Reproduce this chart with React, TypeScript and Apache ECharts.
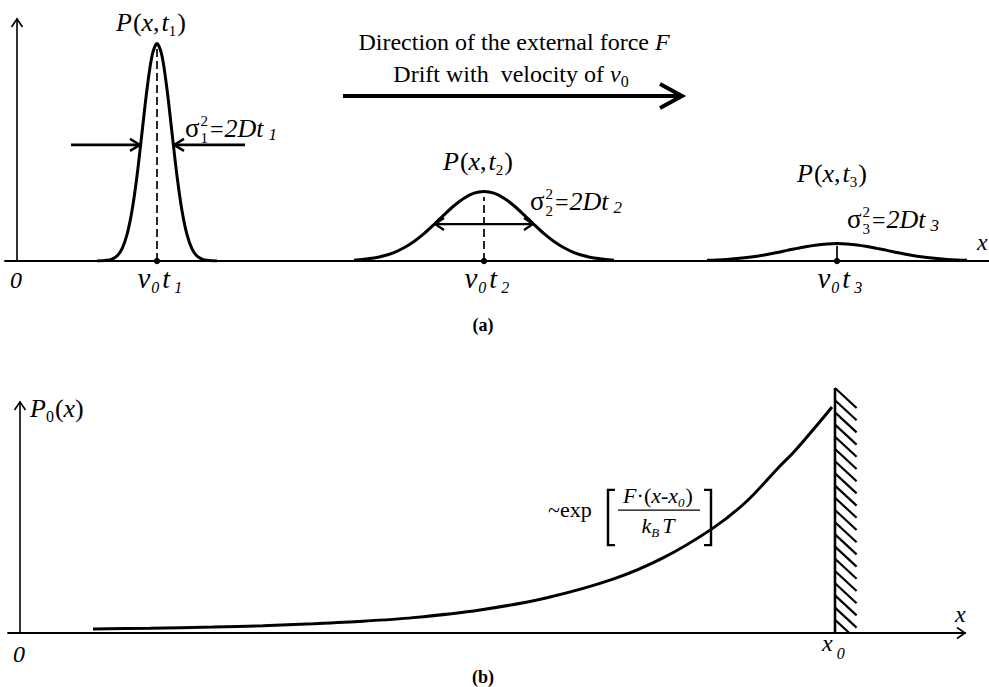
import React, { useEffect, useRef } from 'react';
import * as echarts from 'echarts';

// ---------- panel (a): packet profiles P(x,t) at t1, t2, t3 ----------
// x in drift-axis units, y relative to the first peak
const packetT1: [number, number][] = [
  [8.0, 0], [8.5, 0.001], [9.0, 0.003], [9.5, 0.009], [10.0, 0.023], [10.5, 0.056],
  [11.0, 0.121], [11.5, 0.231], [12.0, 0.391], [12.5, 0.59], [13.0, 0.79], [13.5, 0.943],
  [14.0, 1.0], [14.5, 0.943], [15.0, 0.79], [15.5, 0.59], [16.0, 0.391], [16.5, 0.231],
  [17.0, 0.121], [17.5, 0.056], [18.0, 0.023], [18.5, 0.009], [19.0, 0.003], [19.5, 0.001], [20.0, 0],
];
const packetT2: [number, number][] = [
  [33.7, 0.004], [34.7, 0.008], [35.7, 0.014], [36.7, 0.024], [37.7, 0.039], [38.7, 0.061],
  [39.7, 0.09], [40.7, 0.126], [41.7, 0.168], [42.7, 0.212], [43.7, 0.254], [44.7, 0.289],
  [45.7, 0.312], [46.7, 0.32], [47.7, 0.312], [48.7, 0.289], [49.7, 0.254], [50.7, 0.212],
  [51.7, 0.168], [52.7, 0.126], [53.7, 0.09], [54.7, 0.061], [55.7, 0.039], [56.7, 0.024],
  [57.7, 0.014], [58.7, 0.008], [59.7, 0.004],
];
const packetT3: [number, number][] = [
  [69, 0.003], [70, 0.0045], [71, 0.007], [72, 0.011], [73, 0.016], [74, 0.022], [75, 0.03],
  [76, 0.039], [77, 0.049], [78, 0.058], [79, 0.067], [80, 0.074], [81, 0.078], [82, 0.08],
  [83, 0.078], [84, 0.074], [85, 0.067], [86, 0.058], [87, 0.049], [88, 0.039], [89, 0.03],
  [90, 0.022], [91, 0.016], [92, 0.011], [93, 0.007], [94, 0.0045], [95, 0.003],
];
// centre positions v0*t of the three packets and the height reached by their centre marks
const packetCentres = [14.0, 46.7, 82.0];
const centreMarkTops = [0.984, 0.294, 0.07];
const timeIndices = ['1', '2', '3'];
// width markers: inward arrows on the first packet, a double arrow on the second
const sigma1Level = 0.534;
const sigma1Arrows: [number, number][] = [[5.4, 12.3], [22.8, 15.7]];
const sigma2Level = 0.17;
const sigma2Span: [number, number] = [41.8, 51.6];
// drift / force direction arrow
const driftLevel = 0.759;
const driftSpan: [number, number] = [32.6, 66.5];

// ---------- panel (b): stationary profile P0(x) against the wall at x0 ----------
const boundaryProfile: [number, number][] = [
  [7.3, 0.018], [13.0, 0.021], [19.3, 0.026], [24.3, 0.032], [29.3, 0.041], [34.3, 0.052],
  [39.3, 0.068], [46.0, 0.102], [52.7, 0.156], [59.3, 0.238], [64.3, 0.332], [69.3, 0.464],
  [72.7, 0.584], [76.0, 0.739], [77.2, 0.792], [78.5, 0.857], [79.9, 0.93], [81.2, 1.0],
];
const wallPosition = 81.5;
const wallHeight = 1.084;

// axis extents
const A_X_MIN = -1.2;
const A_X_MAX = 97.2;
const A_Y_MAX = 1.113;
const B_X_MIN = -1.2;
const B_X_MAX = 94.5;
const B_Y_MAX = 1.022;

const INK = '#000';
const FAMILY = 'Liberation Serif';

type Piece = { t: string; s: number; it?: boolean; b?: boolean; dy?: number; gap?: number; hold?: boolean };

let measureCtx: CanvasRenderingContext2D | null = null;
const fontOf = (p: Piece) => `${p.it ? 'italic ' : ''}${p.b ? 'bold ' : ''}${p.s}px "${FAMILY}"`;
function textWidth(p: Piece) {
  if (!measureCtx) measureCtx = document.createElement('canvas').getContext('2d');
  measureCtx!.font = fontOf(p);
  return measureCtx!.measureText(p.t).width;
}

// lay out a run of text pieces on a common baseline (sub/superscripts via dy)
function typeset(pieces: Piece[], x: number, baseline: number, align: 'left' | 'center') {
  const xs: number[] = [];
  let cur = 0;
  pieces.forEach((p) => {
    cur += p.gap ?? 0;
    xs.push(cur);
    if (!p.hold) cur += textWidth(p);
  });
  const start = align === 'center' ? x - cur / 2 : x;
  return pieces.map((p, i) => ({
    type: 'text',
    silent: true,
    z: 20,
    x: start + xs[i],
    y: baseline + (p.dy ?? 0) - 0.34 * p.s,
    style: {
      text: p.t,
      fontFamily: FAMILY,
      fontSize: p.s,
      fontStyle: p.it ? 'italic' : 'normal',
      fontWeight: p.b ? 'bold' : 'normal',
      fill: INK,
      textAlign: 'left',
      textVerticalAlign: 'middle',
      align: 'left',
      verticalAlign: 'middle',
    },
  }));
}

const it = (t: string, s = 26, extra: Partial<Piece> = {}): Piece => ({ t, s, it: true, ...extra });
const rm = (t: string, s = 26, extra: Partial<Piece> = {}): Piece => ({ t, s, ...extra });

const pLabel = (n: string): Piece[] => [
  it('P'), rm('(', 26, { gap: 1 }), it('x'), rm(','), it('t', 26, { gap: 2 }),
  rm(n, 15, { dy: 5 }), rm(')', 26, { gap: 1 }),
];
const sigmaLabel = (n: string): Piece[] => [
  rm('σ', 27), rm('2', 15, { dy: -11, hold: true, gap: 1 }), rm(n, 15, { dy: 6 }),
  rm('=', 24, { gap: 2 }), it('2', 26, { gap: 1 }), it('D'), it('t'), it(n, 17, { dy: 3, gap: 5 }),
];
const vtLabel = (n: string): Piece[] => [
  it('v', 29), it('0', 16, { dy: 5, gap: 1 }), it('t', 28, { gap: 3 }), it(n, 16, { dy: 5, gap: 4 }),
];

function poly(points: number[][], width: number, dash?: number[]) {
  return {
    type: 'polyline',
    silent: true,
    z: 10,
    shape: { points },
    style: { stroke: INK, lineWidth: width, fill: 'none', lineDash: dash, lineJoin: 'miter', lineCap: 'butt' },
  };
}

// open arrowhead with its tip at (tx, ty), pointing along (ux, uy)
function chevron(tx: number, ty: number, ux: number, uy: number, len: number, spread: number, width: number) {
  const nx = -uy;
  const ny = ux;
  return poly(
    [
      [tx - len * ux + spread * nx, ty - len * uy + spread * ny],
      [tx, ty],
      [tx - len * ux - spread * nx, ty - len * uy - spread * ny],
    ],
    width,
  );
}

function buildOption() {
  const axisBase = {
    type: 'value',
    axisTick: { show: false },
    axisLabel: { show: false },
    splitLine: { show: false },
  };
  const curve = (data: [number, number][], idx: number) => ({
    type: 'line',
    xAxisIndex: idx,
    yAxisIndex: idx,
    data,
    smooth: 0.3,
    symbol: 'none',
    showSymbol: false,
    silent: true,
    z: 5,
    lineStyle: { color: INK, width: 3 },
  });
  return {
    animation: false,
    backgroundColor: '#fff',
    grid: [
      { left: 5, top: 19, width: 984, height: 242 },
      { left: 8, top: 402, width: 957, height: 231 },
    ],
    xAxis: [
      { ...axisBase, gridIndex: 0, min: A_X_MIN, max: A_X_MAX, axisLine: { show: true, onZero: true, lineStyle: { color: INK, width: 1.8 } } },
      { ...axisBase, gridIndex: 1, min: B_X_MIN, max: B_X_MAX, axisLine: { show: true, onZero: true, lineStyle: { color: INK, width: 1.8 } } },
    ],
    yAxis: [
      { ...axisBase, gridIndex: 0, min: 0, max: A_Y_MAX, axisLine: { show: true, onZero: true, lineStyle: { color: INK, width: 1.6 } } },
      { ...axisBase, gridIndex: 1, min: 0, max: B_Y_MAX, axisLine: { show: true, onZero: true, lineStyle: { color: INK, width: 1.6 } } },
    ],
    series: [curve(packetT1, 0), curve(packetT2, 0), curve(packetT3, 0), curve(boundaryProfile, 1)],
  };
}

function buildAnnotations(pa: (x: number, y: number) => number[], pb: (x: number, y: number) => number[]) {
  const g: any[] = [];
  const put = (pieces: Piece[], p: number[], align: 'left' | 'center') => g.push(...typeset(pieces, p[0], p[1], align));

  // axis arrowheads
  const ya = pa(0, A_Y_MAX);
  g.push(chevron(ya[0], ya[1], 0, -1, 8, 5.5, 1.6));
  const yb = pb(0, B_Y_MAX);
  g.push(chevron(yb[0], yb[1], 0, -1, 8, 5.5, 1.6));
  const xb = pb(B_X_MAX, 0);
  g.push(chevron(xb[0], xb[1], 1, 0, 8, 5.5, 1.6));

  // ---- panel (a)
  packetCentres.forEach((c, i) => {
    const base = pa(c, 0);
    const top = pa(c, centreMarkTops[i]);
    g.push(poly([base, top], 1.7, i < 2 ? [8, 4] : undefined));
    g.push({ type: 'circle', silent: true, z: 12, shape: { cx: base[0], cy: base[1], r: 3.2 }, style: { fill: INK } });
    put(vtLabel(timeIndices[i]), pa(c - 1.95, -0.124), 'left');
  });

  sigma1Arrows.forEach(([from, to]) => {
    const a = pa(from, sigma1Level);
    const b = pa(to, sigma1Level);
    g.push(poly([a, b], 2.6));
    g.push(chevron(b[0], b[1], Math.sign(b[0] - a[0]), 0, 10, 6, 2.4));
  });

  const s2a = pa(sigma2Span[0], sigma2Level);
  const s2b = pa(sigma2Span[1], sigma2Level);
  g.push(poly([s2a, s2b], 2.2));
  g.push(chevron(s2a[0], s2a[1], -1, 0, 9, 6, 2.2));
  g.push(chevron(s2b[0], s2b[1], 1, 0, 9, 6, 2.2));

  const da = pa(driftSpan[0], driftLevel);
  const db = pa(driftSpan[1], driftLevel);
  g.push(poly([da, [db[0] - 2, db[1]]], 4));
  g.push(chevron(db[0], db[1], 1, 0, 22, 12, 4));

  put(pLabel('1'), pa(13.4, 1.058), 'center');
  put(sigmaLabel('1'), pa(16.8, 0.57), 'left');
  put(pLabel('2'), pa(46.1, 0.419), 'center');
  put(sigmaLabel('2'), pa(51.3, 0.235), 'left');
  put(pLabel('3'), pa(81.5, 0.363), 'center');
  put(sigmaLabel('3'), pa(83.0, 0.152), 'left');
  put([rm('Direction of the external force ', 24), it('F', 24)], pa(49.7, 0.97), 'center');
  put([rm('Drift with  velocity of ', 24), it('v', 24), rm('0', 16, { dy: 5 })], pa(49.4, 0.823), 'center');
  put([it('x', 24)], pa(96.0, 0.051), 'left');
  put([it('0', 24)], pa(-0.1, -0.124), 'center');
  put([rm('(a)', 18, { b: true })], pa(46.6, -0.322), 'center');

  // ---- panel (b)
  const wBase = pb(wallPosition, 0);
  const wTop = pb(wallPosition, wallHeight);
  g.push(poly([wBase, wTop], 2.6));
  for (let y = wTop[1]; y < wBase[1] - 3; y += 12.2) {
    const run = Math.min(20, wBase[1] - y);
    g.push(poly([[wBase[0], y], [wBase[0] + run * 1.08, y + run]], 2.2));
  }

  put([it('P'), rm('0', 16, { dy: 5 }), rm('(', 26, { gap: 1 }), it('x'), rm(')')], pb(1.0, 0.956), 'left');
  put([rm('~exp', 22)], pb(52.8, 0.513), 'left');
  put(
    [it('F', 22), rm('·', 22), rm('(', 22), it('x', 22), rm('-', 22), it('x', 22), it('0', 13, { dy: 4 }), rm(')', 22, { gap: 1 })],
    pb(63.8, 0.575),
    'center',
  );
  g.push(poly([pb(59.8, 0.544), pb(68.0, 0.544)], 1.3));
  put([it('k', 22), it('B', 13, { dy: 4 }), it('T', 22, { gap: 3 })], pb(63.8, 0.442), 'center');
  g.push(poly([pb(59.5, 0.633), pb(58.8, 0.633), pb(58.8, 0.389), pb(59.5, 0.389)], 2.4));
  g.push(poly([pb(68.4, 0.633), pb(69.1, 0.633), pb(69.1, 0.389), pb(68.4, 0.389)], 2.4));

  put([it('x', 24)], pb(93.5, 0.049), 'left');
  put([it('x', 24), it('0', 16, { dy: 8, gap: 4 })], pb(80.2, -0.08), 'left');
  put([it('0', 24)], pb(-0.1, -0.128), 'center');
  put([rm('(b)', 18, { b: true })], pb(46.3, -0.221), 'center');

  return g;
}

export default function App() {
  const ref = useRef<HTMLDivElement>(null);
  useEffect(() => {
    const el = ref.current;
    if (!el) return;
    const chart = echarts.init(el, null, { renderer: 'svg' });
    chart.setOption(buildOption() as any);
    const pa = (x: number, y: number) => chart.convertToPixel({ gridIndex: 0 }, [x, y]) as number[];
    const pb = (x: number, y: number) => chart.convertToPixel({ gridIndex: 1 }, [x, y]) as number[];
    chart.setOption({ graphic: buildAnnotations(pa, pb) } as any);
    return () => chart.dispose();
  }, []);
  return (
    <div
      ref={ref}
      style={{ position: 'fixed', left: 0, top: 0, width: 989, height: 687, background: '#fff' }}
    />
  );
}
